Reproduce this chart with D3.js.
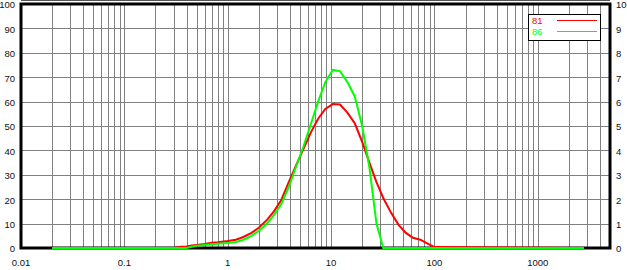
<!DOCTYPE html>
<html>
<head>
<meta charset="utf-8">
<script src="https://cdn.jsdelivr.net/npm/d3@7"></script>
<style>
  body { margin: 0; background: #fff; }
  text { font-family: "Liberation Sans", Arial, sans-serif; font-size: 9.5px; fill: #111; }
</style>
</head>
<body>
<script>
// particle size (x) and percentage (y)
const sizes = [0.02, 0.3, 0.35, 0.4, 0.45, 0.5, 0.6, 0.7, 0.8, 1.0, 1.2, 1.4, 1.7, 2.0, 2.4, 2.8,
  3.3, 3.9, 4.6, 5.4, 6.4, 7.5, 8.8, 10.4, 12.2, 14.4, 17, 20, 23.5, 27.5, 32, 38, 45, 53, 62,
  73, 86, 100, 2800];
const values81 = [0, 0, 0.5, 0.6, 1.0, 1.2, 1.6, 2.2, 2.4, 2.9, 3.4, 4.4, 6.2, 8.3, 11.5, 15,
  19.7, 27, 34, 40.5, 47.5, 53, 57, 59, 58.8, 55.5, 51, 43.5, 35, 27, 20.5, 14.5, 9.5, 6.2, 4.2,
  3.4, 1.8, 0.4, 0];
const values86 = [0, 0, 0, 0, 0.5, 0.9, 1.2, 1.5, 1.7, 2.0, 2.5, 3.3, 5.0, 7.0, 10, 13.5,
  18, 25, 33.5, 41.5, 51, 60, 68, 73, 72.5, 68, 62, 50, 33, 10, 0, 0, 0, 0, 0,
  0, 0, 0, 0];
const xTickLabels = [0.01, 0.1, 1, 10, 100, 1000];
const leftTicks = [0, 10, 20, 30, 40, 50, 60, 70, 80, 90, 100];
const rightTicks = [0, 1, 2, 3, 4, 5, 6, 7, 8, 9, 10];
const series = [
  { name: "81", values: values81, color: "#ff0000" },
  { name: "86", values: values86, color: "#00ff00" }
];

const W = 627, H = 270;
const mLeft = 21, mRight = 610, mTop = 4, mBottom = 248;

const x = d3.scaleLog().domain([0.01, 5000]).range([mLeft, mRight]);
const y = d3.scaleLinear().domain([0, 100]).range([mBottom, mTop]);
const y2 = d3.scaleLinear().domain([0, 10]).range([mBottom, mTop]);

const svg = d3.select("body").append("svg")
  .attr("width", W).attr("height", H);

// grid
const gridX = x.ticks().filter(d => d > 0.0101 && d < 4999);
svg.append("g").selectAll("line").data(gridX).join("line")
  .attr("x1", d => Math.round(x(d)) + 0.5).attr("x2", d => Math.round(x(d)) + 0.5)
  .attr("y1", mTop).attr("y2", mBottom)
  .attr("stroke", "#808080");
svg.append("g").selectAll("line").data(leftTicks.slice(1, -1)).join("line")
  .attr("x1", mLeft).attr("x2", mRight)
  .attr("y1", d => Math.round(y(d)) + 0.5).attr("y2", d => Math.round(y(d)) + 0.5)
  .attr("stroke", "#808080");

// frame
svg.append("line").attr("x1", mLeft).attr("x2", mRight).attr("y1", 0.5).attr("y2", 0.5)
  .attr("stroke", "#555");
svg.append("rect")
  .attr("x", mLeft).attr("y", mTop).attr("width", mRight - mLeft).attr("height", mBottom - mTop)
  .attr("fill", "none").attr("stroke", "#000").attr("stroke-width", 3);

// axis labels
svg.append("g").selectAll("text").data(leftTicks).join("text")
  .attr("x", 15).attr("y", d => y(d) + 1).attr("dy", "0.35em")
  .attr("text-anchor", "end").text(d => d);
svg.append("g").selectAll("text").data(rightTicks).join("text")
  .attr("x", 616).attr("y", d => y2(d) + 1).attr("dy", "0.35em")
  .text(d => d);
svg.append("g").selectAll("text").data(xTickLabels).join("text")
  .attr("x", d => x(d)).attr("y", 266)
  .attr("text-anchor", "middle").text(d => d);

// curves
const line = d3.line()
  .x((d, i) => x(sizes[i]))
  .y(d => y(d));
svg.append("g").selectAll("path").data(series).join("path")
  .attr("d", d => line(d.values))
  .attr("fill", "none")
  .attr("stroke", d => d.color)
  .attr("stroke-width", 2);

// legend
const lg = svg.append("g").attr("transform", "translate(528,14)");
lg.append("rect").attr("x", 0.5).attr("y", 0.5).attr("width", 72).attr("height", 26)
  .attr("fill", "#fff").attr("stroke", "#000");
series.forEach((s, i) => {
  lg.append("text").attr("x", 4).attr("y", 6.5 + i * 11).attr("dy", "0.35em")
    .style("fill", s.color).text(s.name);
  lg.append("line").attr("x1", 29).attr("x2", 69)
    .attr("y1", 6.5 + i * 11).attr("y2", 6.5 + i * 11)
    .attr("stroke", s.color).attr("stroke-width", 1);
});
</script>
</body>
</html>
